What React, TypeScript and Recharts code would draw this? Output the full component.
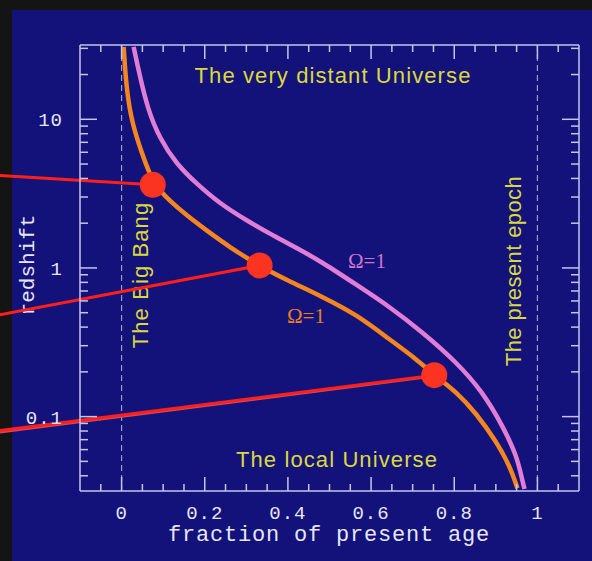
import React from 'react';
import { ComposedChart, Line, Scatter, XAxis, YAxis, ReferenceLine } from 'recharts';

// axis ticks
const AGE_TICKS = [-0.05, 0, 0.05, 0.1, 0.15, 0.2, 0.25, 0.3, 0.35, 0.4, 0.45, 0.5, 0.55, 0.6, 0.65, 0.7, 0.75, 0.8, 0.85, 0.9, 0.95, 1, 1.05];
const AGE_LABELS = [0, 0.2, 0.4, 0.6, 0.8, 1];
const Z_TICKS = [0.04, 0.05, 0.06, 0.07, 0.08, 0.09, 0.1, 0.2, 0.3, 0.4, 0.5, 0.6, 0.7, 0.8, 0.9, 1, 2, 3, 4, 5, 6, 7, 8, 9, 10, 20, 30];
const Z_LABELS = [0.1, 1, 10];

// redshift vs fraction of present age
const ORANGE_CURVE = [
  { t: 0.005, z: 30.7 },
  { t: 0.012, z: 15.4 },
  { t: 0.026, z: 9.26 },
  { t: 0.048, z: 6.0 },
  { t: 0.075, z: 3.7 },
  { t: 0.115, z: 2.84 },
  { t: 0.156, z: 2.26 },
  { t: 0.204, z: 1.79 },
  { t: 0.26, z: 1.38 },
  { t: 0.332, z: 1.03 },
  { t: 0.397, z: 0.83 },
  { t: 0.483, z: 0.64 },
  { t: 0.565, z: 0.486 },
  { t: 0.644, z: 0.331 },
  { t: 0.709, z: 0.244 },
  { t: 0.752, z: 0.19 },
  { t: 0.805, z: 0.147 },
  { t: 0.853, z: 0.105 },
  { t: 0.901, z: 0.068 },
  { t: 0.933, z: 0.047 },
  { t: 0.952, z: 0.033 },
];

const PINK_CURVE = [
  { t: 0.029, z: 30.7 },
  { t: 0.043, z: 20 },
  { t: 0.0625, z: 11.8 },
  { t: 0.091, z: 7.47 },
  { t: 0.132, z: 5.0 },
  { t: 0.18, z: 3.69 },
  { t: 0.236, z: 2.71 },
  { t: 0.3, z: 2.09 },
  { t: 0.363, z: 1.66 },
  { t: 0.428, z: 1.33 },
  { t: 0.483, z: 1.09 },
  { t: 0.565, z: 0.77 },
  { t: 0.644, z: 0.55 },
  { t: 0.724, z: 0.369 },
  { t: 0.805, z: 0.233 },
  { t: 0.868, z: 0.147 },
  { t: 0.916, z: 0.087 },
  { t: 0.95, z: 0.055 },
  { t: 0.964, z: 0.037 },
  { t: 0.969, z: 0.0326 },
];

const MARKERS = [
  { t: 0.075, z: 3.63 },
  { t: 0.332, z: 1.04 },
  { t: 0.752, z: 0.19 },
];
// where the red pointer lines come in from the left edge
const POINTER_FROM = [
  { t: -0.3, z: 4.2 },
  { t: -0.3, z: 0.48 },
  { t: -0.3, z: 0.08 },
];
// faint second strand under the lowest pointer
const POINTER_SHADOW = [{ t: -0.3, z: 0.078 }, { t: 0.75, z: 0.187 }];

const BLUE = '#12127a';
const FRAME = '#c4c4ec';
const TICK_TEXT = '#e6e6f6';
const YELLOW = '#dcd83a';
const ORANGE = '#f5861f';
const PINK = '#e27dd6';
const RED = '#ff1f1a';
const MONO = '"Liberation Mono", "DejaVu Sans Mono", monospace';
const SANS = '"Liberation Sans", Arial, sans-serif';
const SERIF = '"Liberation Serif", "Times New Roman", serif';

const near = (v: number, list: number[]) => list.some((m) => Math.abs(m - v) < 1e-9);

function BottomTick({ x, y, payload }: any) {
  const major = near(payload.value, AGE_LABELS);
  return (
    <g>
      <line x1={x} y1={y} x2={x} y2={y - (major ? 14 : 7)} stroke={FRAME} strokeWidth={1.5} />
      {major && (
        <text x={x} y={y + 28} textAnchor="middle" fill={TICK_TEXT} fontFamily={MONO} fontSize={19} letterSpacing={1}>
          {String(payload.value)}
        </text>
      )}
    </g>
  );
}

function TopTick({ x, y, payload }: any) {
  const major = near(payload.value, AGE_LABELS);
  return <line x1={x} y1={y} x2={x} y2={y + (major ? 14 : 7)} stroke={FRAME} strokeWidth={1.5} />;
}

function LeftTick({ x, y, payload }: any) {
  const major = near(payload.value, Z_LABELS);
  return (
    <g>
      <line x1={x} y1={y} x2={x + (major ? 17 : 8)} y2={y} stroke={FRAME} strokeWidth={1.5} />
      {major && (
        <text x={x - 17} y={y + 7} textAnchor="end" fill={TICK_TEXT} fontFamily={MONO} fontSize={19} letterSpacing={1}>
          {String(payload.value)}
        </text>
      )}
    </g>
  );
}

function RightTick({ x, y, payload }: any) {
  const major = near(payload.value, Z_LABELS);
  return <line x1={x} y1={y} x2={x - (major ? 17 : 8)} y2={y} stroke={FRAME} strokeWidth={1.5} />;
}

export default function App() {
  const yellowText = { fill: YELLOW, fontFamily: SANS, fontSize: 22, letterSpacing: 1.1 };
  const axisCommon = {
    allowDataOverflow: true,
    interval: 0 as const,
    tickSize: 0,
    tickMargin: 0,
    tickLine: false,
    axisLine: { stroke: FRAME, strokeWidth: 1.5 },
  };
  return (
    <div style={{ position: 'absolute', left: 0, top: 0, width: 592, height: 561, background: '#141414', overflow: 'hidden' }}>
      <div style={{ position: 'absolute', left: 12, top: 10, width: 580, height: 551, background: BLUE }} />
      <div style={{ position: 'absolute', left: 0, top: 0 }}>
        <ComposedChart width={592} height={561} margin={{ top: 44, right: 12, bottom: 69, left: 0 }}>
          <XAxis
            xAxisId="b"
            type="number"
            dataKey="t"
            domain={[-0.1, 1.1]}
            ticks={AGE_TICKS}
            tick={(p: any) => <BottomTick {...p} />}
            height={1}
            {...axisCommon}
          />
          <XAxis
            xAxisId="t"
            orientation="top"
            type="number"
            dataKey="t"
            domain={[-0.1, 1.1]}
            ticks={AGE_TICKS}
            tick={(p: any) => <TopTick {...p} />}
            height={1}
            {...axisCommon}
          />
          <YAxis
            yAxisId="l"
            type="number"
            dataKey="z"
            scale="log"
            domain={[0.0316, 31.6]}
            ticks={Z_TICKS}
            tick={(p: any) => <LeftTick {...p} />}
            width={80}
            {...axisCommon}
          />
          <YAxis
            yAxisId="r"
            orientation="right"
            type="number"
            dataKey="z"
            scale="log"
            domain={[0.0316, 31.6]}
            ticks={Z_TICKS}
            tick={(p: any) => <RightTick {...p} />}
            width={1}
            {...axisCommon}
          />

          <ReferenceLine xAxisId="b" yAxisId="l" x={0} stroke="#9c9cc4" strokeDasharray="6 4" strokeWidth={1.2} />
          <ReferenceLine xAxisId="b" yAxisId="l" x={1} stroke="#9c9cc4" strokeDasharray="6 4" strokeWidth={1.2} />

          <text x={333} y={83} textAnchor="middle" {...yellowText}>The very distant Universe</text>
          <text x={337} y={467} textAnchor="middle" {...yellowText}>The local Universe</text>
          <text transform="translate(148,275) rotate(-90)" textAnchor="middle" {...yellowText}>The Big Bang</text>
          <text transform="translate(521,271) rotate(-90)" textAnchor="middle" {...yellowText} letterSpacing={0.4}>The present epoch</text>
          <text x={367} y={268} textAnchor="middle" fill="#d274cc" fontFamily={SERIF} fontSize={21}>Ω=1</text>
          <text x={306} y={323} textAnchor="middle" fill="#e9801f" fontFamily={SERIF} fontSize={21}>Ω=1</text>
          <text transform="translate(34,265) rotate(-90)" textAnchor="middle" fill={TICK_TEXT} fontFamily={MONO} fontSize={21}>redshift</text>
          <text x={329} y={541} textAnchor="middle" fill={TICK_TEXT} fontFamily={MONO} fontSize={22} letterSpacing={0.8}>fraction of present age</text>

          <Line xAxisId="b" yAxisId="l" data={PINK_CURVE} dataKey="z" type="basis" stroke={PINK} strokeWidth={4.5} dot={false} isAnimationActive={false} />
          <Line xAxisId="b" yAxisId="l" data={ORANGE_CURVE} dataKey="z" type="basis" stroke={ORANGE} strokeWidth={4.5} dot={false} isAnimationActive={false} />

          <ReferenceLine
            xAxisId="b"
            yAxisId="l"
            segment={POINTER_SHADOW.map((p) => ({ x: p.t, y: p.z }))}
            ifOverflow="visible"
            stroke="#d24a62"
            strokeWidth={2.5}
          />
          {MARKERS.map((m, i) => (
            <ReferenceLine
              key={`ptr-${i}`}
              xAxisId="b"
              yAxisId="l"
              segment={[POINTER_FROM[i], m].map((p) => ({ x: p.t, y: p.z }))}
              ifOverflow="visible"
              stroke={RED}
              strokeWidth={3}
            />
          ))}

          <Scatter
            xAxisId="b"
            yAxisId="l"
            data={MARKERS}
            dataKey="z"
            isAnimationActive={false}
            shape={(p: any) => <circle cx={p.cx} cy={p.cy} r={13} fill="#fa3420" />}
          />
        </ComposedChart>
      </div>
    </div>
  );
}
